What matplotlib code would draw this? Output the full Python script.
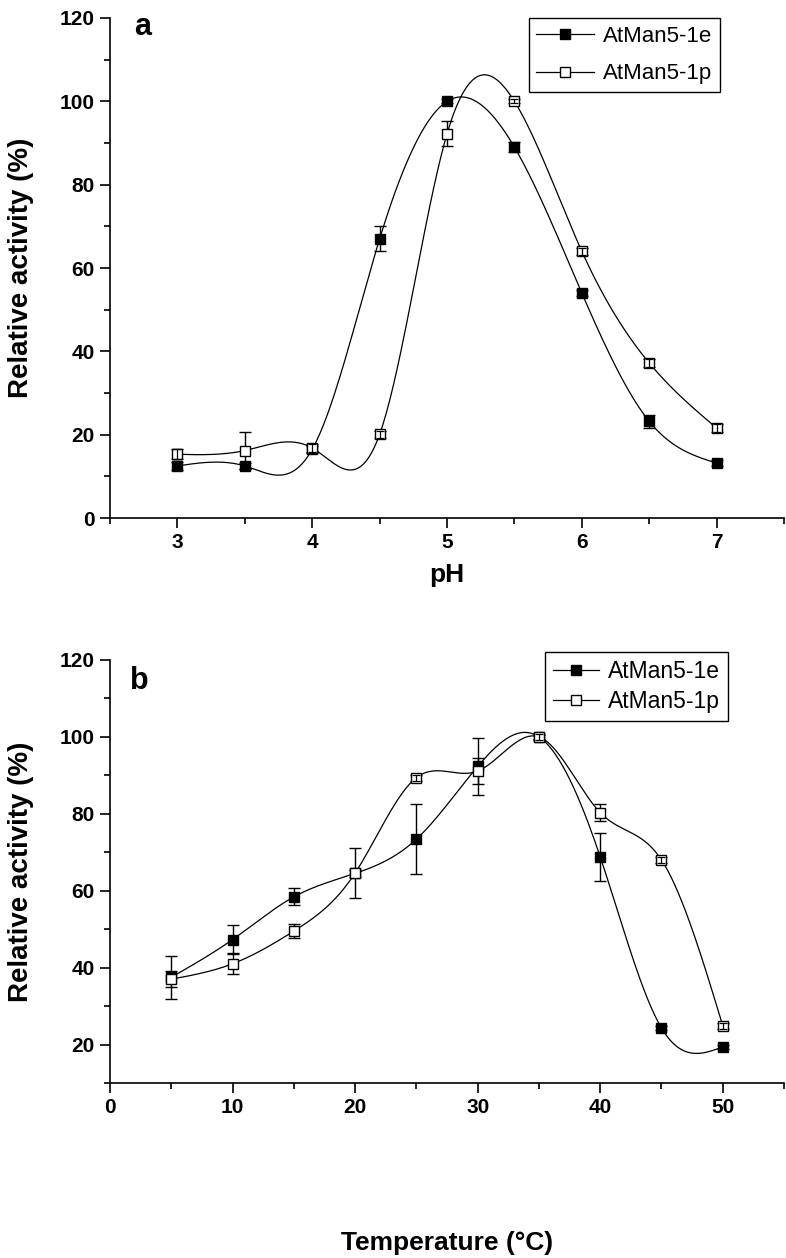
import numpy as np
import matplotlib
matplotlib.use('Agg')
import matplotlib.pyplot as plt
from matplotlib.ticker import MultipleLocator
from matplotlib.lines import Line2D

plt.rcParams['font.family'] = ['Liberation Sans', 'DejaVu Sans']

# panel a: pH profile
ph = [3.0, 3.5, 4.0, 4.5, 5.0, 5.5, 6.0, 6.5, 7.0]
e_ph = [12.5, 12.5, 16.5, 67.0, 100.0, 89.0, 54.0, 23.2, 13.2]
e_ph_err = [1.0, 0.8, 0.8, 3.0, 0.5, 1.2, 0.8, 1.5, 0.8]
p_ph = [15.3, 16.2, 16.8, 20.1, 92.2, 100.0, 64.0, 37.2, 21.6]
p_ph_err = [1.2, 4.5, 1.0, 0.9, 3.0, 0.5, 0.9, 0.9, 0.9]

# panel b: temperature profile
temp = [5, 10, 15, 20, 25, 30, 35, 40, 45, 50]
e_t = [37.5, 47.3, 58.4, 64.5, 73.4, 92.3, 100.0, 68.8, 24.3, 19.4]
e_t_err = [5.6, 3.8, 2.2, 1.0, 9.1, 7.4, 0.5, 6.3, 0.6, 0.6]
p_t = [37.0, 41.0, 49.5, 64.6, 89.4, 91.1, 100.0, 80.3, 68.0, 24.9]
p_t_err = [2.0, 2.7, 1.8, 6.4, 0.8, 3.3, 0.8, 2.3, 0.8, 0.8]

labels = ['AtMan5-1e', 'AtMan5-1p']


def natural_spline(x, y, n=300):
    # smooth connecting curve like Origin's spline line
    x = np.asarray(x, float)
    y = np.asarray(y, float)
    h = np.diff(x)
    m = len(x)
    A = np.zeros((m, m))
    r = np.zeros(m)
    A[0, 0] = 1
    A[-1, -1] = 1
    for i in range(1, m - 1):
        A[i, i - 1] = h[i - 1]
        A[i, i] = 2 * (h[i - 1] + h[i])
        A[i, i + 1] = h[i]
        r[i] = 6 * ((y[i + 1] - y[i]) / h[i] - (y[i] - y[i - 1]) / h[i - 1])
    M = np.linalg.solve(A, r)
    xs = np.linspace(x[0], x[-1], n)
    idx = np.clip(np.searchsorted(x, xs) - 1, 0, m - 2)
    x0, x1 = x[idx], x[idx + 1]
    hh = x1 - x0
    a = (x1 - xs) / hh
    b = (xs - x0) / hh
    ys = (a * y[idx] + b * y[idx + 1]
          + ((a ** 3 - a) * M[idx] + (b ** 3 - b) * M[idx + 1]) * hh ** 2 / 6)
    return xs, ys


def draw_series(ax, x, y, err, face):
    x = np.asarray(x, float)
    y = np.asarray(y, float)
    err = np.asarray(err, float)
    xs, ys = natural_spline(x, y)
    ax.plot(xs, ys, color='black', lw=0.9, zorder=2)
    ax.errorbar(x, y, yerr=err, fmt='none', ecolor='black', elinewidth=1.0,
                capsize=4.5, capthick=1.0, zorder=3)
    ax.plot(x, y, ls='none', marker='s', ms=7.5, mfc=face, mec='black',
            mew=1.0, zorder=4)
    # small error bars show on top of the open squares
    small = err < 1.5
    if face == 'white':
        ax.errorbar(x[small], y[small], yerr=err[small], fmt='none',
                    ecolor='black', elinewidth=0.9, capsize=3.2,
                    capthick=0.9, zorder=5)


def style_axis(ax):
    for s in ['top', 'right']:
        ax.spines[s].set_visible(False)
    for s in ['left', 'bottom']:
        ax.spines[s].set_linewidth(1.2)
    ax.tick_params(which='major', direction='out', length=7, width=1.2,
                   labelsize=15, pad=4)
    ax.tick_params(which='minor', direction='out', length=4, width=1.2)
    for lab in ax.get_xticklabels() + ax.get_yticklabels():
        lab.set_fontweight('bold')


def add_legend(ax, anchor, spacing, hlen, fsize):
    handles = [Line2D([], [], color='black', lw=0.9, marker='s', ms=7.5,
                      mfc=f, mec='black') for f in ['black', 'white']]
    leg = ax.legend(handles, labels, loc='upper right', bbox_to_anchor=anchor,
                    fontsize=fsize, frameon=True, fancybox=False, framealpha=1,
                    edgecolor='black', handlelength=hlen, labelspacing=spacing,
                    borderpad=0.35, handletextpad=0.4, borderaxespad=0)
    leg.get_frame().set_linewidth(1.0)


fig = plt.figure(figsize=(7.86, 12.58), dpi=100)
ax1 = fig.add_axes([0.140, 0.5882, 0.8575, 0.3975])
ax2 = fig.add_axes([0.140, 0.1391, 0.8575, 0.3363])

draw_series(ax1, ph, e_ph, e_ph_err, 'black')
draw_series(ax1, ph, p_ph, p_ph_err, 'white')
ax1.set_xlim(2.5, 7.5)
ax1.set_ylim(0, 120)
ax1.set_xticks([3, 4, 5, 6, 7])
ax1.set_yticks(range(0, 121, 20))
ax1.xaxis.set_minor_locator(MultipleLocator(0.5))
ax1.yaxis.set_minor_locator(MultipleLocator(10))
style_axis(ax1)
ax1.set_xlabel('pH', fontsize=19, fontweight='bold', labelpad=8)
ax1.set_ylabel('Relative activity (%)', fontsize=20, fontweight='bold')
ax1.yaxis.set_label_coords(-0.113, 0.5)
ax1.text(0.035, 1.012, 'a', transform=ax1.transAxes, fontsize=22,
         fontweight='bold', va='top', ha='left', clip_on=False)
add_legend(ax1, (0.905, 1.0), 0.75, 2.6, 16)

draw_series(ax2, temp, e_t, e_t_err, 'black')
draw_series(ax2, temp, p_t, p_t_err, 'white')
ax2.set_xlim(0, 55)
ax2.set_ylim(10, 120)
ax2.set_xticks([0, 10, 20, 30, 40, 50])
ax2.set_yticks(range(20, 121, 20))
ax2.xaxis.set_minor_locator(MultipleLocator(5))
ax2.yaxis.set_minor_locator(MultipleLocator(10))
style_axis(ax2)
ax2.set_xlabel('Temperature (\u00b0C)', fontsize=19, fontweight='bold',
               labelpad=82)
ax2.set_ylabel('Relative activity (%)', fontsize=20, fontweight='bold')
ax2.yaxis.set_label_coords(-0.113, 0.5)
ax2.text(0.03, 0.985, 'b', transform=ax2.transAxes, fontsize=22,
         fontweight='bold', va='top', ha='left')
add_legend(ax2, (0.917, 1.019), 0.3, 2.0, 16.5)

fig.savefig('out.png', dpi=100)
